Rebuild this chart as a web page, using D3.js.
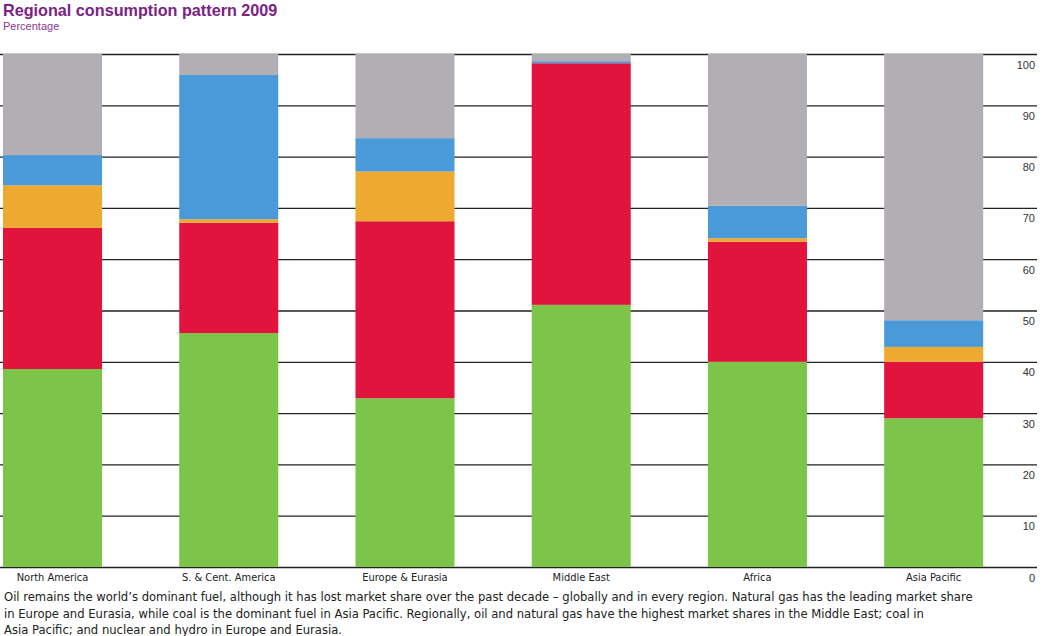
<!DOCTYPE html>
<html><head><meta charset="utf-8">
<script src="https://cdn.jsdelivr.net/npm/d3@7"></script>
<style>body{margin:0;background:#fff}svg{display:block}</style>
</head><body><svg id="c" width="1048" height="636"></svg>
<script>
const regions = ["North America","S. & Cent. America","Europe & Eurasia","Middle East","Africa","Asia Pacific"];
const fuels = ["Oil","Natural gas","Nuclear energy","Hydroelectricity","Coal"];
const oil     = [38.6, 45.6, 32.9, 51.1, 40.0, 29.0];
const gas     = [27.5, 21.5, 34.5, 47.1, 23.4, 11.0];
const nuclear = [8.3, 0.7, 9.7, 0.0, 0.7, 2.9];
const hydro   = [5.9, 28.1, 6.5, 0.4, 6.3, 5.2];
const coal    = [19.7, 4.1, 16.4, 1.4, 29.6, 51.9];
const yTicks  = [0,10,20,30,40,50,60,70,80,90,100];
const colors  = ["#7dc54a","#e0143c","#eeaa30","#4a9ad9","#b2afb4"];
const caption = [
 "Oil remains the world\u2019s dominant fuel, although it has lost market share over the past decade \u2013 globally and in every region. Natural gas has the leading market share",
 "in Europe and Eurasia, while coal is the dominant fuel in Asia Pacific. Regionally, oil and natural gas have the highest market shares in the Middle East; coal in",
 "Asia Pacific; and nuclear and hydro in Europe and Eurasia."
];

const rows = regions.map((r,i)=>({region:r, "Oil":oil[i], "Natural gas":gas[i], "Nuclear energy":nuclear[i], "Hydroelectricity":hydro[i], "Coal":coal[i]}));
const series = d3.stack().keys(fuels)(rows);

const svg = d3.select("#c");
const narrow = "'DejaVu Sans Condensed','Liberation Sans Narrow',sans-serif";
const sans = "'Liberation Sans',Arial,sans-serif";

const x = d3.scaleBand().domain(regions).range([3, 983.2]).paddingInner(0.438).paddingOuter(0);
const y = d3.scaleLinear().domain([0,100]).range([567, 54]);

// grid + right labels
const ax = svg.append("g").attr("transform","translate(1037,0)")
  .call(d3.axisRight(y).tickValues(yTicks).tickSize(-1037).tickFormat(d3.format("d")));
ax.select(".domain").remove();
ax.selectAll(".tick line").attr("stroke","#222").attr("stroke-width",1.3);
ax.selectAll(".tick text").attr("x",-2).attr("dy",14).attr("text-anchor","end")
  .attr("font-family",sans).attr("font-size",11).attr("fill","#333");

// bars
svg.append("g").selectAll("g").data(series).join("g")
  .attr("fill",(d,i)=>colors[i])
  .selectAll("rect").data(d=>d).join("rect")
  .attr("x",d=>x(d.data.region)).attr("width",x.bandwidth())
  .attr("y",d=>y(d[1])).attr("height",d=>Math.max(0,y(d[0])-y(d[1])));

// category labels
svg.append("g").selectAll("text").data(regions).join("text")
  .attr("x",d=>x(d)+x.bandwidth()/2).attr("y",581).attr("text-anchor","middle")
  .attr("font-family",narrow).attr("font-size",11).attr("fill","#222").text(d=>d);

// title
svg.append("text").attr("x",3).attr("y",16).attr("font-family",sans)
  .attr("font-weight","bold").attr("font-size",16.2).attr("fill","#7a2382").text("Regional consumption pattern 2009");
svg.append("text").attr("x",3).attr("y",30).attr("font-family",sans)
  .attr("font-size",11).attr("fill","#8a3a94").text("Percentage");

// caption
svg.append("g").selectAll("text").data(caption).join("text")
  .attr("x",4).attr("y",(d,i)=>601+i*16.5)
  .attr("font-family",narrow).attr("font-size",12.9).attr("fill","#222").text(d=>d);
</script></body></html>
